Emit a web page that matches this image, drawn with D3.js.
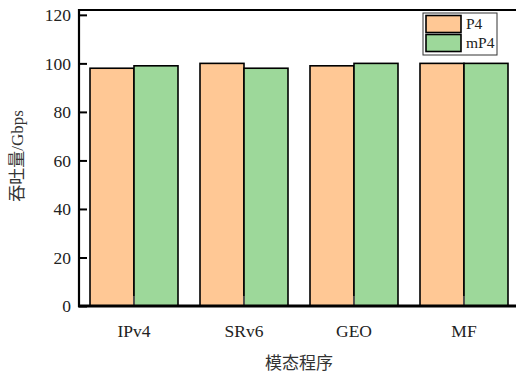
<!DOCTYPE html>
<html>
<head>
<meta charset="utf-8">
<script src="https://cdn.jsdelivr.net/npm/d3@7"></script>
<style>
  body { margin: 0; background: #fff; }
  svg { display: block; }
</style>
</head>
<body>
<div class="chart"></div>
<script>
// data
const categories = ["IPv4", "SRv6", "GEO", "MF"];
const seriesNames = ["P4", "mP4"];
const p4Values = [98, 100, 99, 100];
const mp4Values = [99, 98, 100, 100];
const yTicks = [0, 20, 40, 60, 80, 100, 120];
const colors = ["#FFC895", "#9DD89A"];

const w = 516, h = 375;
const margin = { top: 10, left: 79, bottom: 306 };
const serif = "'Liberation Serif', 'Noto Sans CJK SC', serif";

const svg = d3.select("div.chart")
    .append("svg")
    .attr("width", w)
    .attr("height", h);

// scales
const xScale = d3.scaleBand()
    .domain(categories)
    .range([margin.left, margin.left + 440])
    .paddingInner(0.2)
    .paddingOuter(0.1);

const xSub = d3.scaleBand()
    .domain(seriesNames)
    .range([0, xScale.bandwidth()]);

const yScale = d3.scaleLinear()
    .domain([0, 122])
    .range([margin.bottom, margin.top]);

// bars
const rows = categories.map((c, i) => ({ cat: c, vals: [p4Values[i], mp4Values[i]] }));

svg.append("g").selectAll("g")
    .data(rows)
    .enter()
    .append("g")
    .attr("transform", d => "translate(" + xScale(d.cat) + ",0)")
    .selectAll("rect")
    .data(d => d.vals.map((v, j) => ({ name: seriesNames[j], v: v, j: j })))
    .enter()
    .append("rect")
    .attr("x", d => xSub(d.name))
    .attr("y", d => yScale(d.v))
    .attr("width", xSub.bandwidth())
    .attr("height", d => yScale(0) - yScale(d.v))
    .attr("fill", d => colors[d.j])
    .attr("stroke", "#000")
    .attr("stroke-width", 1.6);

// frame: top line
svg.append("line")
    .attr("x1", margin.left).attr("x2", w + 5)
    .attr("y1", margin.top).attr("y2", margin.top)
    .attr("stroke", "#000").attr("stroke-width", 2);

// y axis (ticks inward)
const yAxis = d3.axisRight(yScale)
    .tickValues(yTicks)
    .tickSize(8)
    .tickFormat("");
const yg = svg.append("g")
    .attr("transform", "translate(" + margin.left + ",0)")
    .call(yAxis);
yg.select(".domain").remove();
yg.selectAll(".tick line").attr("stroke-width", 2);
svg.append("line")
    .attr("x1", margin.left).attr("x2", margin.left)
    .attr("y1", margin.top - 1).attr("y2", margin.bottom + 1)
    .attr("stroke", "#000").attr("stroke-width", 2.2);

svg.append("g").selectAll("text")
    .data(yTicks)
    .enter()
    .append("text")
    .attr("x", margin.left - 8)
    .attr("y", d => yScale(d))
    .attr("dy", "0.35em")
    .attr("text-anchor", "end")
    .style("font-family", serif)
    .style("font-size", "17.5px")
    .attr("fill", "#222")
    .text(d => d);

// x axis (ticks inward)
const xAxis = d3.axisTop(xScale).tickSize(10).tickFormat("");
const xg = svg.append("g")
    .attr("transform", "translate(0," + margin.bottom + ")")
    .call(xAxis);
xg.select(".domain").remove();
xg.selectAll(".tick line").attr("stroke", "#666").attr("stroke-width", 1.5);
svg.append("line")
    .attr("x1", margin.left - 1).attr("x2", w + 5)
    .attr("y1", margin.bottom).attr("y2", margin.bottom)
    .attr("stroke", "#000").attr("stroke-width", 3);

svg.append("g").selectAll("text")
    .data(categories)
    .enter()
    .append("text")
    .attr("x", d => xScale(d) + xScale.bandwidth() / 2)
    .attr("y", 337)
    .attr("text-anchor", "middle")
    .style("font-family", serif)
    .style("font-size", "17.5px")
    .attr("fill", "#222")
    .text(d => d);

// axis titles
svg.append("text")
    .attr("x", (margin.left + margin.left + 440) / 2)
    .attr("y", 369)
    .attr("text-anchor", "middle")
    .style("font-family", serif)
    .style("font-size", "17px")
    .attr("fill", "#333")
    .text("模态程序");

svg.append("text")
    .attr("transform", "translate(23," + ((margin.top + margin.bottom) / 2 - 2) + ") rotate(-90)")
    .attr("text-anchor", "middle")
    .style("font-family", serif)
    .style("font-size", "17px")
    .attr("fill", "#333")
    .text("吞吐量/Gbps");

// legend
const legend = svg.append("g").attr("transform", "translate(423,13)");
legend.append("rect")
    .attr("width", 74).attr("height", 42)
    .attr("fill", "#fff").attr("stroke", "#333").attr("stroke-width", 1);
const items = legend.selectAll("g.item")
    .data(seriesNames)
    .enter()
    .append("g")
    .attr("transform", (d, i) => "translate(3," + (2.5 + i * 19) + ")");
items.append("rect")
    .attr("width", 35).attr("height", 17)
    .attr("fill", (d, i) => colors[i])
    .attr("stroke", "#000").attr("stroke-width", 1.6);
items.append("text")
    .attr("x", 40).attr("y", 8.5)
    .attr("dy", "0.35em")
    .style("font-family", serif)
    .style("font-size", "15.5px")
    .attr("fill", "#222")
    .text(d => d);
</script>
</body>
</html>
